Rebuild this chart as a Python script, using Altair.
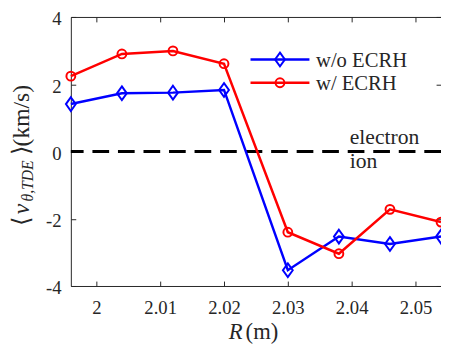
import altair as alt
import pandas as pd

# ---- data ----
r_vals = [1.996, 2.004, 2.012, 2.020, 2.030, 2.038, 2.046, 2.054]
v_wo_ecrh = [1.41, 1.73, 1.75, 1.83, -3.53, -2.53, -2.75, -2.53]
v_w_ecrh = [2.24, 2.90, 2.99, 2.61, -2.40, -3.04, -1.72, -2.10]
series_names = ["w/o ECRH", "w/ ECRH"]
series_colors = ["#0000ff", "#ff0000"]
x_ticks = [2.0, 2.01, 2.02, 2.03, 2.04, 2.05]
y_ticks = [-4, -2, 0, 2, 4]
x_domain = [1.996, 2.054]
y_domain = [-4, 4]
zero_level = [0]
region_texts = ["electron", "ion"]
region_y = [0.22, -0.48]
region_x = [2.0397, 2.0397]

FONT = "Liberation Serif"
AX = "#262626"
W, H = 377, 274

df = pd.DataFrame({
    "R": r_vals * 2,
    "v": v_wo_ecrh + v_w_ecrh,
    "series": [series_names[0]] * len(r_vals) + [series_names[1]] * len(r_vals),
})

xs = alt.Scale(domain=x_domain, nice=False, zero=False)
ys = alt.Scale(domain=y_domain, nice=False, zero=False)
color = alt.Color("series:N", scale=alt.Scale(domain=series_names, range=series_colors), legend=None)
diamond = "M0,-1L0.714,0L0,1L-0.714,0Z"
circle = "M0.643,0A0.643,0.643,0,1,1,-0.643,0A0.643,0.643,0,1,1,0.643,0Z"
shape = alt.Shape("series:N", scale=alt.Scale(domain=series_names, range=[diamond, circle]), legend=None)

lab = "toString(datum.value)"

ax_x_labels = alt.Axis(orient="bottom", values=x_ticks, labelExpr=lab, ticks=False, domain=True,
                       domainColor=AX, domainWidth=1, labelFont=FONT, labelFontSize=19,
                       labelColor=AX, labelPadding=13, labelFlush=False, labelOverlap=False,
                       grid=False, title=None)
ax_y_labels = alt.Axis(orient="left", values=y_ticks, labelExpr=lab, ticks=False, domain=True,
                       domainColor=AX, domainWidth=1, labelFont=FONT, labelFontSize=19,
                       labelColor=AX, labelPadding=10, labelOffset=2, labelFlush=False,
                       labelOverlap=False, grid=False, title=None)
ax_x_in_bottom = alt.Axis(orient="top", offset=-H, values=x_ticks, labels=False, domain=False,
                          ticks=True, tickSize=5, tickColor=AX, tickWidth=1, grid=False, title=None)
ax_x_top = alt.Axis(orient="bottom", offset=-H, values=x_ticks, labels=False, domain=True,
                    domainColor=AX, domainWidth=1, ticks=True, tickSize=5, tickColor=AX,
                    tickWidth=1, grid=False, title=None)
ax_y_in_left = alt.Axis(orient="right", offset=-W, values=y_ticks, labels=False, domain=False,
                        ticks=True, tickSize=5, tickColor=AX, tickWidth=1, grid=False, title=None)
ax_y_in_right = alt.Axis(orient="left", offset=-W, values=y_ticks, labels=False, domain=False,
                         ticks=True, tickSize=5, tickColor=AX, tickWidth=1, grid=False, title=None)

zero = alt.Chart(pd.DataFrame({"y": zero_level})).mark_rule(
    color="black", strokeWidth=3, strokeDash=[17, 9]
).encode(y=alt.Y("y:Q", scale=ys, axis=None))

lines = alt.Chart(df).mark_line(strokeWidth=2.5).encode(
    x=alt.X("R:Q", scale=xs, axis=ax_x_labels),
    y=alt.Y("v:Q", scale=ys, axis=ax_y_labels),
    color=color,
)

points = alt.Chart(df).mark_point(filled=False, strokeWidth=2, size=196, opacity=1).encode(
    x=alt.X("R:Q", scale=xs, axis=ax_x_in_bottom),
    y=alt.Y("v:Q", scale=ys, axis=ax_y_in_left),
    color=color,
    shape=shape,
)

regions = alt.Chart(pd.DataFrame({"x": region_x, "y": region_y, "t": region_texts})).mark_text(
    align="left", baseline="alphabetic", font=FONT, fontSize=22, color="#262626"
).encode(
    x=alt.X("x:Q", scale=xs, axis=ax_x_top),
    y=alt.Y("y:Q", scale=ys, axis=ax_y_in_right),
    text="t:N",
)

# ---- legend (drawn by hand) ----
leg = pd.DataFrame({"series": series_names, "row": [0, 1]})
leg_base = alt.Chart(leg).transform_calculate(ly="43.3 + datum.row * 23.7", ty="51 + datum.row * 23.7")
leg_lines = leg_base.mark_rule(strokeWidth=2.5).encode(
    x=alt.value(183), x2=alt.value(243), y=alt.Y("ly:Q", scale=None, axis=None), color=color)
leg_marks = leg_base.mark_point(filled=False, strokeWidth=2, size=196, opacity=1).encode(
    x=alt.value(213), y=alt.Y("ly:Q", scale=None, axis=None), color=color, shape=shape)
leg_text = leg_base.mark_text(align="left", baseline="alphabetic", font=FONT, fontSize=21,
                              color="#262626").encode(
    x=alt.value(249.7), y=alt.Y("ty:Q", scale=None, axis=None), text="series:N")

# ---- axis titles with math-style pieces ----
def piece(txt, x, y, size, style="normal", angle=0, align="left"):
    return alt.Chart(pd.DataFrame({"t": [txt]})).mark_text(
        align=align, baseline="alphabetic", font=FONT, fontSize=size, fontStyle=style,
        angle=angle, color="#262626"
    ).encode(text="t:N", x=alt.value(x), y=alt.value(y))

ytitle = [
    piece("⟨", -43, 213, 24, angle=270),
    piece("v", -43, 201, 24, style="italic", angle=270),
    piece("θ,TDE", -39, 188, 16, style="italic", angle=270),
    piece("⟩(km/s)", -43, 141, 24, angle=270),
]
xtitle = [
    piece("R", 175, 328, 23, style="italic", align="right"),
    piece("(m)", 178, 328, 23),
]

chart = alt.layer(
    zero, lines, points, regions, leg_lines, leg_marks, leg_text, *ytitle, *xtitle
).resolve_axis(x="independent", y="independent").properties(
    width=W, height=H,
    padding={"left": 64, "top": 6, "right": 0, "bottom": 60},
    autosize=alt.AutoSizeParams(type="none"),
    background="white",
).configure_view(stroke=None)

chart.save("out.html", embed_options={"renderer": "svg", "actions": False})
